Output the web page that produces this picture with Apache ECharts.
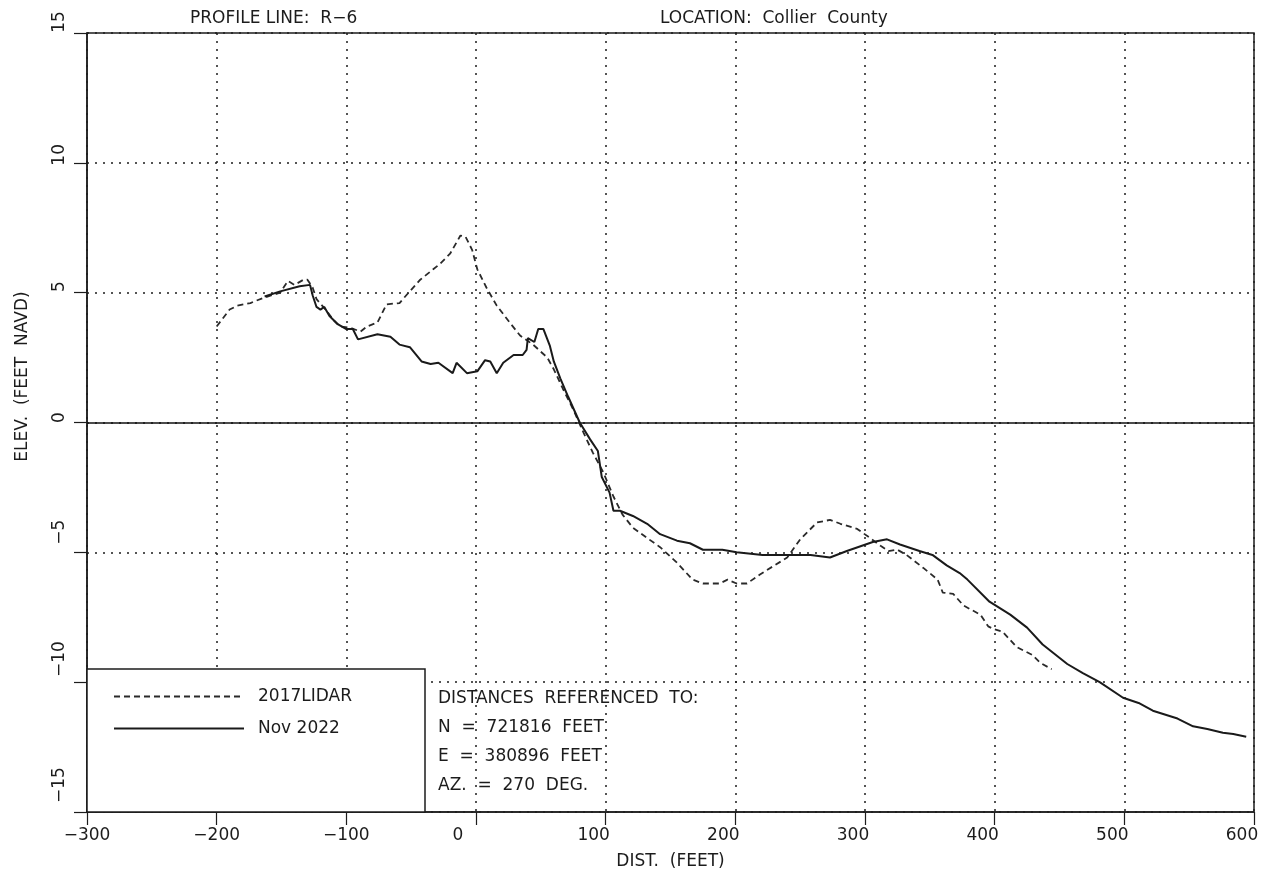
<!DOCTYPE html>
<html>
<head>
<meta charset="utf-8">
<script src="https://cdn.jsdelivr.net/npm/echarts@6/dist/echarts.min.js"></script>
<style>
html,body{margin:0;padding:0;background:#fff;}
#chart{width:1264px;height:884px;}
</style>
</head>
<body>
<div id="chart"></div>
<script>
// ---- Data ----
const lidarX = [-200, -190, -184, -174, -164, -151, -145, -140, -133, -130, -126, -123, -116, -110, -105, -97, -89, -84, -76, -69, -59, -52, -43, -33, -28, -20, -12, -8, -3, 1, 8, 16, 26, 34, 44, 55, 60, 67, 75, 83, 90, 98, 106, 113, 121, 132, 142, 155, 167, 175, 188, 194, 201, 209, 219, 240, 250, 263, 273, 281, 294, 304, 312, 318, 325, 332, 345, 356, 360, 368, 376, 389, 395, 399, 406, 417, 429, 435, 444];
const lidarY = [3.70, 4.35, 4.5, 4.6, 4.8, 5.0, 5.45, 5.3, 5.5, 5.5, 5.2, 4.75, 4.35, 3.95, 3.7, 3.65, 3.5, 3.7, 3.85, 4.55, 4.6, 5.0, 5.5, 5.9, 6.1, 6.5, 7.2, 7.15, 6.65, 5.9, 5.2, 4.5, 3.85, 3.35, 3.0, 2.5, 2.05, 1.3, 0.5, -0.4, -1.15, -1.9, -2.85, -3.55, -4.05, -4.45, -4.8, -5.4, -6.05, -6.2, -6.2, -6.05, -6.2, -6.2, -5.85, -5.2, -4.5, -3.85, -3.75, -3.9, -4.1, -4.45, -4.75, -4.95, -4.9, -5.1, -5.6, -6.05, -6.55, -6.6, -7.05, -7.4, -7.85, -7.95, -8.05, -8.65, -8.95, -9.25, -9.5];

const nov2022X = [-163, -151, -136, -128, -126, -123, -120, -117, -113, -107, -100, -95, -91, -76, -66, -59, -51, -42, -35, -29, -18, -15, -7, 1, 7, 11, 16, 21, 29, 36, 39, 40, 45, 48, 52, 57, 60, 65, 71, 80, 88, 94, 97, 103, 106, 111, 121, 132, 142, 155, 165, 175, 190, 201, 221, 258, 273, 286, 306, 317, 327, 342, 352, 363, 373, 379, 396, 412, 425, 437, 456, 468, 481, 499, 511, 522, 541, 553, 564, 576, 584, 594];
const nov2022Y = [4.85, 5.05, 5.25, 5.3, 4.9, 4.45, 4.35, 4.45, 4.1, 3.8, 3.6, 3.6, 3.2, 3.4, 3.3, 3.0, 2.9, 2.35, 2.25, 2.3, 1.9, 2.3, 1.9, 1.97, 2.4, 2.35, 1.9, 2.3, 2.6, 2.6, 2.8, 3.25, 3.1, 3.6, 3.6, 2.95, 2.35, 1.7, 1.0, 0.0, -0.65, -1.1, -2.1, -2.7, -3.4, -3.4, -3.6, -3.9, -4.3, -4.55, -4.65, -4.9, -4.9, -5.0, -5.1, -5.1, -5.2, -4.95, -4.6, -4.5, -4.7, -4.95, -5.1, -5.5, -5.8, -6.05, -6.9, -7.4, -7.9, -8.55, -9.3, -9.65, -10.0, -10.6, -10.8, -11.1, -11.4, -11.7, -11.8, -11.95, -12.0, -12.1];

const seriesNames = ['2017LIDAR', 'Nov 2022'];
const xTicks = [-300, -200, -100, 0, 100, 200, 300, 400, 500, 600];
const yTicks = [-15, -10, -5, 0, 5, 10, 15];
const titleLeft = 'PROFILE LINE:  R\u22126';
const titleRight = 'LOCATION:  Collier  County';
const xName = 'DIST.  (FEET)';
const yName = 'ELEV.  (FEET  NAVD)';
const refLines = ['DISTANCES  REFERENCED  TO:', 'N  =  721816  FEET', 'E  =  380896  FEET', 'AZ.  =  270  DEG.'];

// ---- Build ----
const FONT = 'DejaVu Sans';
const FS = 17;
const INK = '#1c1c1c';
const fmt = v => (v < 0 ? '\u2212' + Math.abs(v) : String(v));
const pairs = (xs, ys) => xs.map((x, i) => [x, ys[i]]);
const tx = extra => Object.assign({fontFamily: FONT, fontSize: FS, color: INK}, extra || {});

const chart = echarts.init(document.getElementById('chart'), null, {renderer: 'canvas'});

const option = {
  backgroundColor: '#fff',
  animation: false,
  title: [
    {text: titleLeft, left: 185, top: 5, textStyle: tx({fontWeight: 'normal'})},
    {text: titleRight, left: 655, top: 5, textStyle: tx({fontWeight: 'normal'})}
  ],
  grid: {left: 87, right: 10, top: 33, bottom: 72, show: true, borderColor: INK, borderWidth: 1.5, backgroundColor: 'transparent'},
  legend: {
    data: seriesNames,
    orient: 'vertical',
    left: 113, top: 688,
    padding: 0,
    itemWidth: 130, itemHeight: 16, itemGap: 15,
    itemStyle: {opacity: 0},
    textStyle: tx({lineHeight: 16, padding: [0, 0, 0, 9]}),
    z: 30,
    selectedMode: false
  },
  xAxis: {
    type: 'value', min: -300, max: 600, interval: 100,
    name: xName, nameLocation: 'middle', nameGap: 41,
    nameTextStyle: tx(),
    axisLine: {show: true, onZero: false, lineStyle: {color: INK, width: 1.5}},
    axisTick: {show: true, inside: false, length: 13, lineStyle: {color: INK, width: 1.2}},
    axisLabel: {
      margin: 15, fontFamily: FONT, fontSize: FS, color: INK,
      formatter: v => v < 0 ? '{n|' + fmt(v) + '}' : (v === 0 ? '{z|0}' : '{p|' + v + '}'),
      rich: {
        n: tx(),
        z: tx({padding: [0, 36, 0, 0]}),
        p: tx({padding: [0, 24, 0, 0]})
      }
    },
    splitLine: {show: true, lineStyle: {color: INK, width: 1.5, type: [2, 6]}}
  },
  yAxis: {
    type: 'value', min: -15, max: 15, interval: 5,
    name: yName, nameLocation: 'middle', nameGap: 56, nameRotate: 90,
    nameTextStyle: tx({padding: [0, 0, 0, 92]}),
    axisLine: {show: true, onZero: false, lineStyle: {color: INK, width: 1.5}},
    axisTick: {show: true, inside: false, length: 13, lineStyle: {color: INK, width: 1.2}},
    axisLabel: {
      rotate: 90, margin: 19, fontFamily: FONT, fontSize: FS, color: INK,
      formatter: v => {
        const key = {'-15': 'a', '-10': 'b', '-5': 'c', '0': 'd', '5': 'e', '10': 'f', '15': 'g'}[String(v)];
        return '{' + key + '|' + fmt(v) + '}';
      },
      rich: {
        a: tx({padding: [0, 0, 0, 54]}),
        b: tx({padding: [0, 0, 0, 46]}),
        c: tx({padding: [0, 0, 0, 40]}),
        d: tx({padding: [0, 0, 0, 10]}),
        e: tx({padding: [0, 0, 0, 12]}),
        f: tx({padding: [0, 0, 0, 16]}),
        g: tx({padding: [0, 0, 0, 22]})
      }
    },
    splitLine: {show: true, lineStyle: {color: INK, width: 1.5, type: [2, 6]}}
  },
  series: [
    {
      name: seriesNames[0], type: 'line', data: pairs(lidarX, lidarY),
      symbol: 'none', showSymbol: false, z: 5,
      lineStyle: {color: '#2a2a2a', width: 1.8, type: [6, 4]},
      itemStyle: {color: '#2a2a2a'}
    },
    {
      name: seriesNames[1], type: 'line', data: pairs(nov2022X, nov2022Y),
      symbol: 'none', showSymbol: false, z: 6,
      lineStyle: {color: '#1a1a1a', width: 2, type: 'solid'},
      itemStyle: {color: '#1a1a1a'},
      markLine: {
        silent: true, symbol: 'none', label: {show: false},
        lineStyle: {color: '#111', width: 1.5, type: 'solid'},
        data: [{yAxis: 0}]
      }
    }
  ],
  graphic: [
    {type: 'rect', z: 20, shape: {x: 87, y: 669, width: 338, height: 143},
     style: {fill: '#fff', stroke: INK, lineWidth: 1.5}},
    {type: 'text', z: 25, left: 438, top: 684,
     style: {text: refLines.join('\n'), fontFamily: FONT, fontSize: FS, lineHeight: 29, fill: INK}}
  ]
};
chart.setOption(option);
</script>
</body>
</html>
